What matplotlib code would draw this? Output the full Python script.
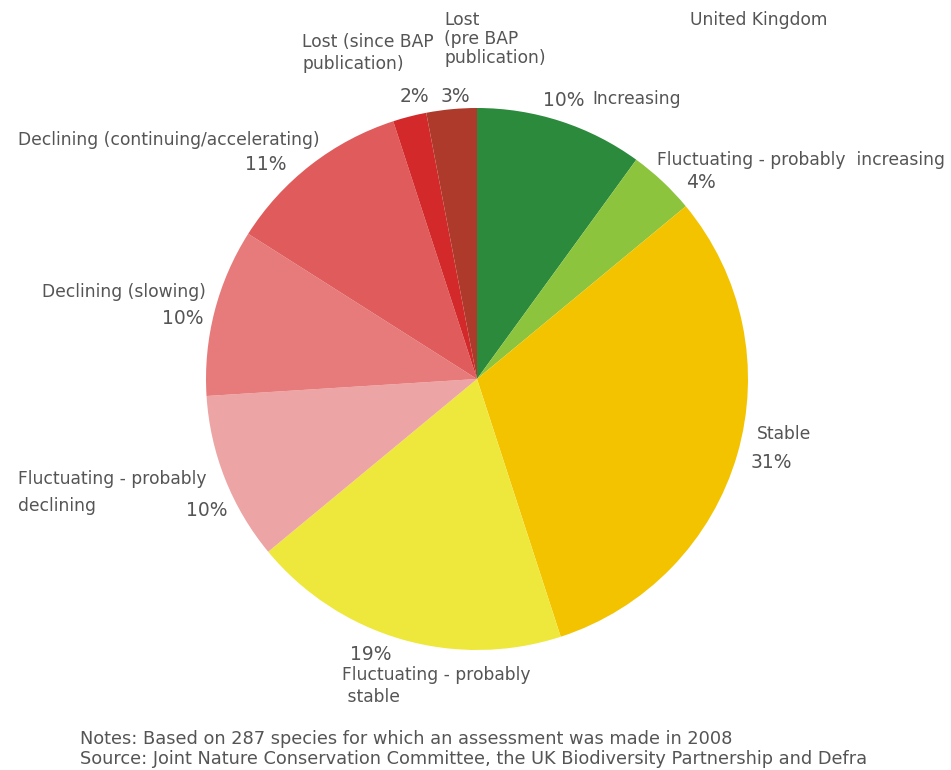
import matplotlib.pyplot as plt

# slices, clockwise from 12 o'clock
categories = ['Increasing', 'Fluctuating - probably increasing', 'Stable',
              'Fluctuating - probably stable', 'Fluctuating - probably declining',
              'Declining (slowing)', 'Declining (continuing/accelerating)',
              'Lost (since BAP publication)', 'Lost (pre BAP publication)']
shares = [10, 4, 31, 19, 10, 10, 11, 2, 3]
colors = ['#2b8a3b', '#8cc43e', '#f4c300', '#efe83c', '#eda4a4',
          '#e77b7b', '#e05b5b', '#d3292a', '#ad3a2b']

W, H = 951, 770
fig = plt.figure(figsize=(W / 100, H / 100), dpi=100)
ax = fig.add_axes([0, 0, 1, 1])
ax.set_xlim(0, W)
ax.set_ylim(H, 0)
ax.axis('off')

# pie drawn in a separate equal-aspect axes placed over the pixel grid
cx, cy, r = 477, 379, 271
pax = fig.add_axes([(cx - r) / W, 1 - (cy + r) / H, 2 * r / W, 2 * r / H])
pax.pie(shares, colors=colors, startangle=90, counterclock=False,
        wedgeprops=dict(linewidth=0))
pax.set_xlim(-1, 1)
pax.set_ylim(-1, 1)
pax.set_aspect('equal')
pax.axis('off')

tc = '#555555'
lab = dict(color=tc, fontsize=12.3, va='center', ha='left')
pct = dict(color=tc, fontsize=13.5, va='center', ha='left')

def p(v):
    return f"{v}%"

ax.text(690, 20, 'United Kingdom', **lab)

ax.text(302, 53, 'Lost (since BAP\npublication)', linespacing=1.3, **lab)
ax.text(400, 97, p(shares[7]), **pct)
ax.text(444, 39, 'Lost\n(pre BAP\npublication)', linespacing=1.05, **lab)
ax.text(441, 97, p(shares[8]), **pct)

ax.text(543, 100, p(shares[0]), **pct)
ax.text(592, 99, categories[0], **lab)

ax.text(657, 160, 'Fluctuating - probably  increasing', **lab)
ax.text(686, 183, p(shares[1]), **pct)

ax.text(757, 434, 'Stable', **lab)
ax.text(751, 462, p(shares[2]), **pct)

ax.text(350, 654, p(shares[3]), **pct)
ax.text(342, 686, 'Fluctuating - probably\n stable', linespacing=1.3, **lab)

ax.text(18, 479, 'Fluctuating - probably', **lab)
ax.text(18, 506, 'declining', **lab)
ax.text(186, 511, p(shares[4]), **pct)

ax.text(42, 292, categories[5], **lab)
ax.text(162, 318, p(shares[5]), **pct)

ax.text(18, 140, categories[6], **lab)
ax.text(245, 165, p(shares[6]), **pct)

ax.text(80, 739, 'Notes: Based on 287 species for which an assessment was made in 2008',
        color=tc, fontsize=12.8, va='center', ha='left')
ax.text(80, 759, 'Source: Joint Nature Conservation Committee, the UK Biodiversity Partnership and Defra',
        color=tc, fontsize=12.8, va='center', ha='left')

fig.savefig('out.png', dpi=100)
